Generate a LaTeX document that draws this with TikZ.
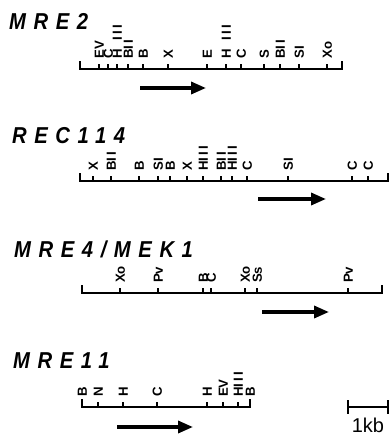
\documentclass[tikz,border=0pt]{standalone}
\usepackage{fontspec}
\setmainfont{Liberation Sans}
\newfontfamily\titlefont[LetterSpace=33,FakeStretch=0.88]{Liberation Sans}
\newfontfamily\labfont{Liberation Sans}
\usetikzlibrary{arrows.meta}
\newcommand\tI{I\kern2pt}
\begin{document}
\begin{tikzpicture}[x=1pt,y=-1pt,
  title/.style={anchor=base west, inner sep=0pt, font=\titlefont\bfseries\itshape\fontsize{23}{23}\selectfont},
  site/.style={rotate=90, anchor=west, inner sep=0pt, text height=9.5pt, text depth=0pt, font=\labfont\bfseries\fontsize{13.2}{13.2}\selectfont},
  mapline/.style={line width=1.4pt, line cap=butt, line join=miter},
  tickmark/.style={line width=1.2pt},
  dirarrow/.style={line width=3.4pt, -{Triangle[length=15pt,width=12pt]}},
  kb/.style={anchor=base, inner sep=0pt, font=\fontsize{20}{20}\selectfont}]
\useasboundingbox (0,0) rectangle (390,437);

% ---------- MRE2 ----------
\node[title] (t1) at (9,29) {MRE2};
\draw[mapline] (80,61) -- (80,69) -- (342,69) -- (342,61);
\foreach \x/\t [count=\i] in {99/EV,108/C,117/H\kern9pt\tI\tI I,128/B\tI I,143/B,168/X,207/E,226/H\kern9pt\tI\tI I,241/C,264/S,280/B\tI I,299/S\tI,327/Xo}{
  \node[site] (a\i) at (\x,59) {\t};
  \draw[tickmark] (\x,69) -- (\x,64);
}
\coordinate (a0s) at (140,88); \coordinate (a0e) at (206,88);
\draw[dirarrow] (a0s) -- (a0e);

% ---------- REC114 ----------
\node[title] (t2) at (12,143) {REC114};
\draw[mapline] (80,173) -- (80,181) -- (388,181) -- (388,173);
\foreach \x/\t [count=\i] in {93/X,111/B\tI I,139/B,158/S\tI,170/B,187/X,203/H\tI\tI I,221/B\tI I,232/H\tI\tI I,247/C,288/S\tI,352/C,368/C}{
  \node[site] (b\i) at (\x,171) {\t};
  \draw[tickmark] (\x,181) -- (\x,176);
}
\coordinate (b0s) at (258,199); \coordinate (b0e) at (326,199);
\draw[dirarrow] (b0s) -- (b0e);

% ---------- MRE4/MEK1 ----------
\node[title] (t3) at (14,257) {MRE4/MEK1};
\draw[mapline] (82,285) -- (82,293) -- (382,293) -- (382,285);
\foreach \x/\t [count=\i] in {120/Xo,158/Pv,203/B,211/C,245/Xo,257/Ss,348/Pv}{
  \node[site] (c\i) at (\x,283) {\t};
  \draw[tickmark] (\x,293) -- (\x,288);
}
\coordinate (c0s) at (262,312); \coordinate (c0e) at (329,312);
\draw[dirarrow] (c0s) -- (c0e);

% ---------- MRE11 ----------
\node[title] (t4) at (13,368) {MRE11};
\draw[mapline] (82,399) -- (82,407) -- (250,407) -- (250,399);
\foreach \x/\t [count=\i] in {82/B,98/N,123/H,157/C,207/H,223/EV,238/H\tI\tI I,250/B}{
  \node[site] (d\i) at (\x,397) {\t};
  \draw[tickmark] (\x,407) -- (\x,402);
}
\coordinate (d0s) at (117,427); \coordinate (d0e) at (193,427);
\draw[dirarrow] (d0s) -- (d0e);

% ---------- scale bar ----------
\coordinate (sL) at (348,407); \coordinate (sR) at (388,407);
\draw[mapline] (348,400) -- (348,414);
\draw[mapline] (388,400) -- (388,414);
\draw[mapline] (sL) -- (sR);
\node[kb] (kb) at (368,432) {1kb};
\end{tikzpicture}
\end{document}
